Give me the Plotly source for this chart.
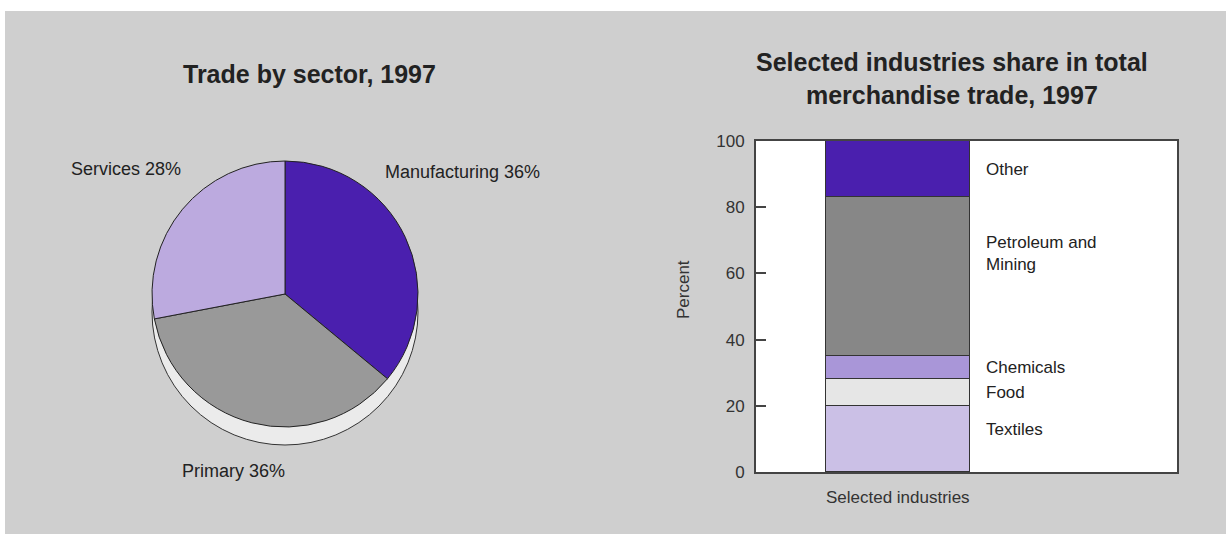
import plotly.graph_objects as go

# ---------------- data ----------------
sector_labels = ["Manufacturing", "Primary", "Services"]
sector_values = [36, 36, 28]

industry_names = ["Textiles", "Food", "Chemicals", "Petroleum and<br>Mining", "Other"]
industry_values = [20, 8, 7, 48, 17]
category = ["Selected industries"]
y_ticks = [0, 20, 40, 60, 80, 100]

# ---------------- style ----------------
W, H = 1226, 534
FONT = "Liberation Sans"
TXT = "#222222"
BG = "#cfcfcf"
sector_colors = ["#4a1fae", "#999999", "#bcaadf"]
industry_colors = ["#cbc0e6", "#e6e6e6", "#a996d8", "#878787", "#4a1fae"]


def px_x(x):
    return x / W


def px_y(y):
    return 1 - y / H


fig = go.Figure()

# pie (with a lighter copy behind it, shifted down, for depth)
cx, cy, r, depth = 285, 294, 133, 18
fig.add_trace(go.Pie(
    values=[sum(sector_values)], labels=["depth"], sort=False,
    marker=dict(colors=["#ebebeb"], line=dict(color="#333333", width=1)),
    textinfo="none", hoverinfo="skip", showlegend=False,
    domain=dict(x=[px_x(cx - r), px_x(cx + r)],
                y=[px_y(cy + depth + r), px_y(cy + depth - r)]),
))
fig.add_trace(go.Pie(
    values=sector_values, labels=sector_labels, sort=False,
    direction="clockwise", rotation=0,
    marker=dict(colors=sector_colors, line=dict(color="#222222", width=1)),
    textinfo="none", showlegend=False,
    domain=dict(x=[px_x(cx - r), px_x(cx + r)],
                y=[px_y(cy + r), px_y(cy - r)]),
))

# stacked bar
for name, val, col in zip(industry_names, industry_values, industry_colors):
    fig.add_trace(go.Bar(
        x=category, y=[val], name=name, width=0.5,
        marker=dict(color=col, line=dict(color="#333333", width=1.5)),
        showlegend=False,
    ))

annotations = []
# pie labels
pie_label_pos = {
    "Manufacturing": dict(x=383, y=172, xanchor="left"),
    "Primary": dict(x=180, y=471, xanchor="left"),
    "Services": dict(x=183, y=169, xanchor="right"),
}
for lab, val in zip(sector_labels, sector_values):
    p = pie_label_pos[lab]
    annotations.append(dict(
        text=f"{lab} {val}%", x=px_x(p["x"]), y=px_y(p["y"]),
        xref="paper", yref="paper", xanchor=p["xanchor"], yanchor="middle",
        showarrow=False, font=dict(family=FONT, size=18, color=TXT)))

# bar segment labels
label_offset = {"Petroleum and<br>Mining": 7, "Textiles": 2.7}
base = 0
for name, val in zip(industry_names, industry_values):
    ymid = base + val / 2 + label_offset.get(name, 0)
    base += val
    annotations.append(dict(
        text=name, x=0.25, y=ymid, xref="x", yref="y",
        xanchor="left", yanchor="middle", xshift=14, align="left",
        showarrow=False, font=dict(family=FONT, size=17, color=TXT)))

# y-axis title
annotations.append(dict(
    text="Percent", x=px_x(683), y=px_y(290), xref="paper", yref="paper",
    xanchor="center", yanchor="middle", textangle=-90, showarrow=False,
    font=dict(family=FONT, size=17, color="#333333")))

# titles
annotations.append(dict(
    text="<b>Trade by sector, 1997</b>", x=px_x(309), y=px_y(74),
    xref="paper", yref="paper", xanchor="center", yanchor="middle",
    showarrow=False, font=dict(family=FONT, size=25, color=TXT)))
annotations.append(dict(
    text="<b>Selected industries share in total<br>merchandise trade, 1997</b>",
    x=px_x(952), y=px_y(78), xref="paper", yref="paper",
    xanchor="center", yanchor="middle", showarrow=False,
    font=dict(family=FONT, size=25, color=TXT)))

fig.update_layout(
    width=W, height=H, margin=dict(l=0, r=0, t=0, b=0, autoexpand=False),
    paper_bgcolor=BG, plot_bgcolor="white",
    barmode="stack", bargap=0,
    annotations=annotations,
    shapes=[
        dict(type="rect", xref="paper", yref="paper", x0=0, x1=1,
             y0=px_y(11), y1=1, fillcolor="white", line=dict(width=0),
             layer="below"),
        dict(type="rect", xref="paper", yref="paper", x0=0, x1=px_x(5),
             y0=0, y1=1, fillcolor="white", line=dict(width=0),
             layer="below"),
    ],
    xaxis=dict(domain=[px_x(756), px_x(1177)], range=[-0.492, 0.969],
               automargin=False,
               showline=True, linecolor="#444444", linewidth=2, mirror=True,
               ticks="", showgrid=False, zeroline=False, fixedrange=True,
               ticklabelstandoff=9,
               tickfont=dict(family=FONT, size=17, color="#333333")),
    yaxis=dict(domain=[px_y(472), px_y(141)], range=[0, 100],
               automargin=False,
               tickvals=y_ticks, ticks="inside", ticklen=10, tickwidth=2,
               tickcolor="#444444",
               showline=True, linecolor="#444444", linewidth=2, mirror=True,
               showgrid=False, zeroline=False, fixedrange=True,
               ticklabelstandoff=6,
               tickfont=dict(family=FONT, size=17, color="#333333")),
)

fig.write_html("out.html")
